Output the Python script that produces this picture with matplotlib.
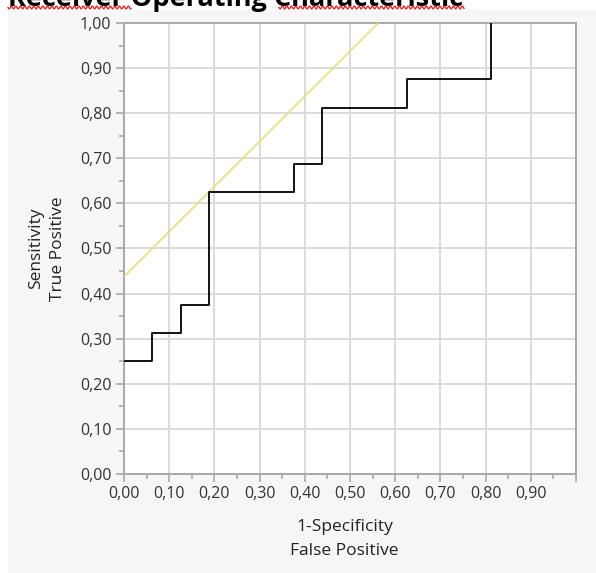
import numpy as np
import matplotlib
matplotlib.use("Agg")
import matplotlib.pyplot as plt
from matplotlib.patches import Rectangle
from matplotlib.ticker import MultipleLocator, FuncFormatter

# ROC step curve (1-specificity, sensitivity)
fpr = [0.0, 0.0625, 0.0625, 0.125, 0.125, 0.1875, 0.1875, 0.375, 0.375,
       0.4375, 0.4375, 0.625, 0.625, 0.8125, 0.8125]
tpr = [0.25, 0.25, 0.3125, 0.3125, 0.375, 0.375, 0.625, 0.625, 0.6875,
       0.6875, 0.8125, 0.8125, 0.875, 0.875, 1.0]

# tangent line through the optimal cut point
tangent_slope = 1.0
tangent_intercept = 0.4375

plt.rcParams['font.family'] = ['Open Sans', 'DejaVu Sans']

fig = plt.figure(figsize=(5.96, 5.73), dpi=100)
fig.patch.set_facecolor('white')
W, H = 596, 573

# grey report panel
panel = Rectangle((8 / W, 0), 1, 1 - 10 / H, transform=fig.transFigure,
                  facecolor='#f6f6f6', edgecolor='none', zorder=-5)
fig.add_artist(panel)

ax = fig.add_axes([124 / W, (H - 474) / H, 452 / W, 451 / H])
ax.set_zorder(2)
ax.set_facecolor('white')

xs = np.array([0.0, 1.0])
ax.plot(xs, tangent_slope * xs + tangent_intercept, color='#e6dc6e', lw=1.1, zorder=3)
ax.plot(fpr, tpr, color='black', lw=1.3, zorder=4)

ax.set_xlim(0, 1)
ax.set_ylim(0, 1)
ax.xaxis.set_major_locator(MultipleLocator(0.1))
ax.yaxis.set_major_locator(MultipleLocator(0.1))
ax.xaxis.set_minor_locator(MultipleLocator(0.05))
ax.yaxis.set_minor_locator(MultipleLocator(0.05))

comma = FuncFormatter(lambda v, p: f"{v:.2f}".replace('.', ','))
ax.yaxis.set_major_formatter(comma)
ax.xaxis.set_major_formatter(FuncFormatter(
    lambda v, p: "" if v > 0.95 else f"{v:.2f}".replace('.', ',')))

ax.grid(True, which='major', color='#dadada', lw=1.4)
ax.set_axisbelow(True)
for s in ax.spines.values():
    s.set_color('#a8a8a8')
    s.set_linewidth(1.4)

ax.tick_params(which='major', length=6, width=1.2, color='#a8a8a8',
               labelsize=11.5, labelcolor='#333333', pad=3)
ax.tick_params(which='minor', length=3.5, width=1.2, color='#a8a8a8')

ax.set_xlabel("1-Specificity\nFalse Positive", fontsize=12.5, color='#222222',
              linespacing=1.62)
ax.xaxis.set_label_coords(0.488, -0.1)
ax.xaxis.label.set_va('top')
ax.set_ylabel("Sensitivity\nTrue Positive", fontsize=12.5, color='#222222',
              linespacing=1.5, labelpad=10)

# title, partly clipped at the top edge
title = fig.text(8 / W, 1 - 6 / H, "Receiver Operating Characteristic",
                 fontsize=19.5, fontweight='bold', ha='left', va='baseline',
                 color='black', zorder=1)

# spell-check squiggles under two words
def squiggle(x0, x1, y):
    t = np.linspace(x0, x1, int((x1 - x0) * 3))
    yy = y + 1.4 * np.sin(2 * np.pi * (t - x0) / 4.5)
    fig.add_artist(plt.Line2D(t / W, 1 - yy / H, transform=fig.transFigure,
                              color='#e02828', lw=1.0, zorder=3))

squiggle(8, 131, 7.5)
squiggle(279, 464, 7.5)

fig.savefig("out.png", dpi=100)
